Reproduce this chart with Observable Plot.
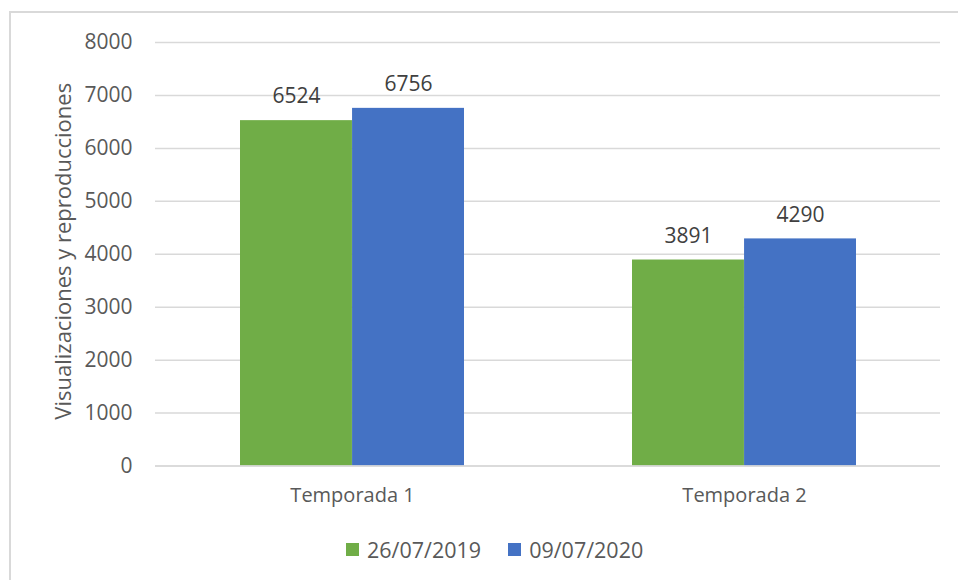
<!DOCTYPE html>
<html>
<head>
<meta charset="utf-8">
<script src="https://cdn.jsdelivr.net/npm/d3@7"></script>
<script src="https://cdn.jsdelivr.net/npm/@observablehq/plot@0.6"></script>
<style>
  html, body { margin: 0; padding: 0; background: #fff; overflow: hidden; }
  #wrap { position: relative; width: 958px; height: 580px; }
  #frame { position: absolute; left: 9px; top: 11px; width: 960px; height: 580px; border: 2px solid #d9d9d9; box-sizing: border-box; }
  #chart { position: absolute; left: 0; top: 0; }
  #legend { position: absolute; left: 346px; top: 535px; display: flex; gap: 27px;
            font-family: "Open Sans", sans-serif; font-size: 21.5px; color: #595959; }
  .item { display: flex; align-items: center; gap: 8px; }
  .sw { width: 13px; height: 13px; display: inline-block; }
</style>
</head>
<body>
<div id="wrap">
  <div id="frame"></div>
  <div id="chart"></div>
  <div id="legend"></div>
</div>
<script>
const categories = ["Temporada 1", "Temporada 2"];
const series = ["26/07/2019", "09/07/2020"];
const values2019 = [6524, 3891];
const values2020 = [6756, 4290];
const colors = ["#70AD47", "#4472C4"];
const yTicks = [0, 1000, 2000, 3000, 4000, 5000, 6000, 7000, 8000];
const yTitle = "Visualizaciones y reproducciones";

const data = [];
categories.forEach((c, i) => {
  data.push({category: c, series: series[0], value: values2019[i]});
  data.push({category: c, series: series[1], value: values2020[i]});
});

const W = 958, H = 520, mL = 155, mR = 18, mT = 42, mB = 54.5;
const pInner = 0.429, pOuter = 0.2145;
const step = (W - mL - mR) / (categories.length - pInner + 2 * pOuter);
const bw = step * (1 - pInner);
const half = bw / 2;
const font = "'Open Sans', sans-serif";

const chart = Plot.plot({
  width: W, height: H,
  marginLeft: mL, marginRight: mR, marginTop: mT, marginBottom: mB,
  style: {fontFamily: font, fontSize: "21px", color: "#595959", background: "transparent"},
  x: {domain: categories, paddingInner: pInner, paddingOuter: pOuter, label: null},
  y: {domain: [0, 8000], ticks: yTicks, label: null},
  marks: [
    Plot.gridY(yTicks, {stroke: "#d9d9d9", strokeOpacity: 1, strokeWidth: 1.5}),
    Plot.barY(data.filter(d => d.series === series[0]), {x: "category", y: "value", fill: colors[0], insetRight: half}),
    Plot.barY(data.filter(d => d.series === series[1]), {x: "category", y: "value", fill: colors[1], insetLeft: half}),
    Plot.ruleY([0], {stroke: "#d9d9d9", strokeWidth: 1.5}),
    Plot.text(data.filter(d => d.series === series[0]), {x: "category", y: "value", text: d => String(d.value), dx: -half / 2, dy: -24, fill: "#404040", fontSize: 21}),
    Plot.text(data.filter(d => d.series === series[1]), {x: "category", y: "value", text: d => String(d.value), dx: half / 2, dy: -24, fill: "#404040", fontSize: 21}),
    Plot.axisY(yTicks, {tickSize: 0, tickPadding: 23, tickFormat: d => String(d), label: null, fill: "#595959", fontSize: 21}),
    Plot.axisX({tickSize: 0, tickPadding: 22, label: null, fill: "#595959", fontSize: 20}),
    Plot.text([yTitle], {frameAnchor: "left", textAnchor: "middle", dx: -92, dy: -3, rotate: -90, fill: "#595959", fontSize: 22})
  ]
});
document.getElementById("chart").appendChild(chart);

const legend = document.getElementById("legend");
series.forEach((s, i) => {
  const it = document.createElement("span");
  it.className = "item";
  const sw = document.createElement("span");
  sw.className = "sw";
  sw.style.background = colors[i];
  it.appendChild(sw);
  it.appendChild(document.createTextNode(s));
  legend.appendChild(it);
});
</script>
</body>
</html>
